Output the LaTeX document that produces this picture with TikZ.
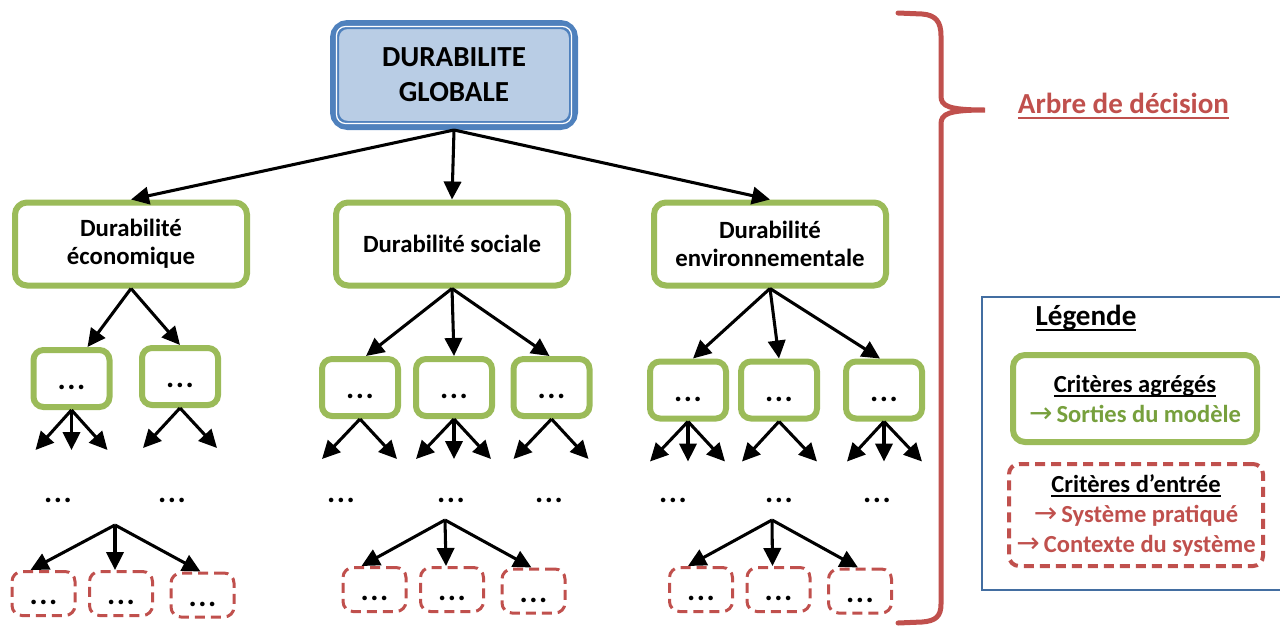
\documentclass[tikz,border=0pt]{standalone}
\usepackage{fontspec}
\setmainfont{Carlito}
\newfontfamily\arrowfont{DejaVu Sans}
\usetikzlibrary{arrows.meta}

\definecolor{globblue}{HTML}{4F81BD}
\definecolor{globfill}{HTML}{B9CDE5}
\definecolor{aggrgreen}{HTML}{9BBB59}
\definecolor{darkgreen}{HTML}{77A03D}
\definecolor{entryred}{HTML}{C0504D}

\newcommand{\pxl}{0.75pt}
\newcommand{\bigfont}{\bfseries\fontsize{21.8}{26}\selectfont}
\newcommand{\midfont}{\bfseries\fontsize{18.6}{21}\selectfont}
\newcommand{\legfont}{\bfseries\fontsize{18.4}{22.5}\selectfont}
\newcommand{\dotfont}{\bfseries\fontsize{23}{24}\selectfont}
\newcommand{\undl}[1]{\setbox0\hbox{#1}\rlap{\rule[-0.2em]{\wd0}{1.4pt}}\box0}
\newcommand{\toarrow}{{\arrowfont\mdseries\fontsize{21}{22}\selectfont →}}
\newcommand{\tdots}{.\kern1.2pt.\kern1.2pt.}

\tikzset{
	arr/.style={-{Triangle[length=13.5pt,width=13pt]}, line width=2.3pt},
	topbox/.style={draw=globblue, line width=9*\pxl, fill=globfill, rounded corners=13*\pxl,
		minimum width=239*\pxl, minimum height=101*\pxl, inner sep=0pt, align=center, font=\bigfont},
	greenbox/.style={draw=aggrgreen, line width=6*\pxl, fill=white, rounded corners=12*\pxl,
		inner sep=0pt, align=center},
	dimbox/.style={greenbox, minimum width=232*\pxl, minimum height=83*\pxl, font=\midfont},
	critbox/.style={greenbox, rounded corners=10*\pxl, minimum width=76*\pxl, minimum height=57*\pxl,
		font=\dotfont, text height=17pt, text depth=0pt},
	redbox/.style={draw=entryred, line width=3*\pxl, dash pattern=on 7.5pt off 4.5pt,
		rounded corners=10*\pxl, inner sep=0pt, align=center},
	inbox/.style={redbox, minimum width=63*\pxl, minimum height=44*\pxl,
		font=\dotfont, text height=17pt, text depth=0pt},
	dots/.style={font=\dotfont, inner sep=1pt},
	curly/.style={draw=entryred, line width=5*\pxl, line cap=round},
	legframe/.style={draw=globblue!85!black, line width=2*\pxl},
}

\begin{document}
\begin{tikzpicture}[x=0.75pt, y=-0.75pt]
	\useasboundingbox (0,0) rectangle (1280,625);

	% root of the tree
	\node[topbox] (glob) at (454,75) {DURABILITE\\GLOBALE};
	\draw[white, line width=1.2*\pxl, rounded corners=9*\pxl]
		([shift={(6.5,6.5)}]glob.north west) rectangle ([shift={(-6.5,-6.5)}]glob.south east);

	% the three dimensions
	\node[dimbox] (eco) at (131,244) {Durabilité\\économique};
	\node[dimbox] (soc) at (452,244) {Durabilité sociale};
	\node[dimbox] (env) at (770,244) {Durabilité\\environnementale};
	\foreach \dim in {eco, soc, env}
		\draw[arr] (glob.south) -- (\dim.north);

	% aggregated criteria
	\foreach \name/\x/\y/\from/\sh in {%
		eco1/71.5/378.5/eco/16, eco2/180/376.5/eco/0,
		soc1/360/387.5/soc/6, soc2/454/387.5/soc/0, soc3/551.5/387.5/soc/-2,
		env1/688/390/env/5, env2/779/390/env/0, env3/884/390/env/-4%
	}{
		\node[critbox] (\name) at (\x,\y) {\tdots};
		\draw[arr] (\from.south) -- ([xshift=\sh*\pxl]\name.north);
	}

	% next level (only started)
	\foreach \name/\dxs in {%
		eco1/{-36,0,36}, eco2/{-37,37},
		soc1/{-38,37}, soc2/{-38,0,37}, soc3/{-38,37},
		env1/{-38,0,37}, env2/{-37,38}, env3/{-37,0,38}%
	}{
		\foreach \dx in \dxs
			\draw[arr] (\name.south) -- ++(\dx,40) coordinate (\name end\dx);
	}
	\foreach \x [count=\i] in {58, 172, 341, 451, 549, 673, 779, 877}
		\node[dots] (dots\i) at (\x,500) {\tdots};

	% input criteria
	\foreach \grp/\x/\y/\fx/\fy in {eco/43.5/593.5/115/525, soc/374.5/589.5/445/520, env/701/589.5/772/520}{
		\coordinate (\grp fan) at (\fx,\fy);
		\node[inbox] (\grp in1) at (\x,\y) {\tdots};
		\node[inbox] (\grp in2) at (\x+77.5,\y) {\tdots};
		\node[inbox] (\grp in3) at (\x+159,\y+1.5) {\tdots};
		\draw[arr] (\grp fan) -- ([xshift=-13*\pxl]\grp in1.north);
		\draw[arr] (\grp fan) -- ([xshift=-6*\pxl]\grp in2.north);
		\draw[arr] (\grp fan) -- ([xshift=-2*\pxl]\grp in3.north);
	}

	% brace
	\draw[curly] (898,13) -- (922,14) .. controls (936,15) and (941,22) .. (941,36) -- (941,96)
		.. controls (941,106) and (948,110) .. (985,110)
		.. controls (948,110) and (941,114) .. (941,124) -- (941,604)
		.. controls (941,616) and (936,621) .. (922,622) -- (898,623);
	\node[anchor=base, text=entryred, font=\bigfont] (arbre) at (1123.5,113) {\undl{Arbre de décision}};

	% legend
	\draw[legframe] (1290,297) -- (982,297) -- (982,590) -- (1290,590);
	\node[anchor=base, font=\bigfont] (legtitle) at (1086,325) {\undl{Légende}};
	\node[greenbox, minimum width=244*\pxl, minimum height=87*\pxl, font=\legfont] (legaggr) at (1135,398.5)
		{\undl{Critères agrégés}\\{\color{darkgreen}\toarrow\,Sorties du modèle}};
	\node[redbox, line width=4*\pxl, minimum width=254*\pxl, minimum height=102*\pxl, font=\legfont,
		text=entryred] (legentry) at (1136,515)
		{{\color{black}\undl{Critères d’entrée}}\\\toarrow\,Système pratiqué\\\toarrow\,Contexte du système};
\end{tikzpicture}
\end{document}
